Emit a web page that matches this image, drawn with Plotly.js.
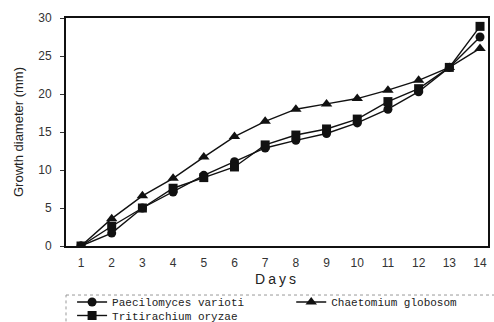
<!DOCTYPE html>
<html><head><meta charset="utf-8">
<script src="https://cdn.plot.ly/plotly-3.0.1.min.js"></script>
<style>
body{margin:0;background:#fff}
text.xtitle{letter-spacing:3px}
</style>
</head><body>
<div id="chart" style="width:494px;height:322px"></div>
<script>
const days = [1,2,3,4,5,6,7,8,9,10,11,12,13,14];
const paecilomyces = [0,1.7,5.0,7.1,9.3,11.1,12.9,13.9,14.8,16.2,18.0,20.3,23.5,27.5];
const chaetomium = [0,3.6,6.6,8.9,11.7,14.4,16.4,18.0,18.7,19.4,20.5,21.8,23.5,26.0];
const tritirachium = [0,2.6,5.0,7.6,9.0,10.4,13.3,14.6,15.4,16.7,19.0,20.7,23.5,28.9];
const names = ["Paecilomyces varioti","Chaetomium globosom","Tritirachium oryzae"];
const yTicks = [0,5,10,15,20,25,30];

const line = () => ({color:'#111', width:1.4});
const traces = [
  {x:days, y:paecilomyces, name:names[0], legend:'legend', mode:'lines+markers', line:line(), marker:{symbol:'circle', size:9, color:'#111'}},
  {x:days, y:chaetomium, name:names[1], legend:'legend2', mode:'lines+markers', line:line(), marker:{symbol:'triangle-up', size:10, color:'#111'}},
  {x:days, y:tritirachium, name:names[2], legend:'legend3', mode:'lines+markers', line:line(), marker:{symbol:'square', size:9, color:'#111'}}
];
const legFont = () => ({family:'Liberation Mono, DejaVu Sans Mono, monospace', size:11, color:'#222'});
const layout = {
  width:494, height:322,
  margin:{l:66, r:6, t:18, b:76, autoexpand:false},
  paper_bgcolor:'#fff', plot_bgcolor:'#fff',
  font:{family:'Liberation Sans, Arial, sans-serif', size:12, color:'#222'},
  showlegend:true,
  legend:{x:0.0144, xanchor:'left', y:-0.2456, yanchor:'middle', font:legFont(), borderwidth:0, bgcolor:'rgba(0,0,0,0)'},
  legend2:{x:0.5337, xanchor:'left', y:-0.2456, yanchor:'middle', font:legFont(), borderwidth:0, bgcolor:'rgba(0,0,0,0)'},
  legend3:{x:0.0144, xanchor:'left', y:-0.3048, yanchor:'middle', font:legFont(), borderwidth:0, bgcolor:'rgba(0,0,0,0)'},
  shapes:[{type:'rect', xref:'paper', yref:'paper', x0:0, x1:1.019, y0:-0.215, y1:-0.4,
    line:{color:'#999', width:1, dash:'dot'}, fillcolor:'rgba(0,0,0,0)', layer:'below'}],
  xaxis:{range:[0.511,14.26], tickvals:days, ticktext:days.map(String), ticks:'', ticklabelstandoff:5,
    showgrid:false, zeroline:false, showline:true, linecolor:'#111', linewidth:2, mirror:true,
    tickfont:{size:12, color:'#333'},
    title:{text:'Days', font:{size:14, color:'#222'}, standoff:5}},
  yaxis:{range:[0,30], tickvals:yTicks, ticks:'outside', ticklen:4, tickcolor:'#333', ticklabelstandoff:6,
    showgrid:false, zeroline:false, showline:true, linecolor:'#111', linewidth:2, mirror:true,
    tickfont:{size:12, color:'#333'},
    title:{text:'Growth diameter (mm)', font:{size:13, color:'#222'}, standoff:12}}
};
Plotly.newPlot('chart', traces, layout, {staticPlot:true, displayModeBar:false});
</script>
</body></html>
